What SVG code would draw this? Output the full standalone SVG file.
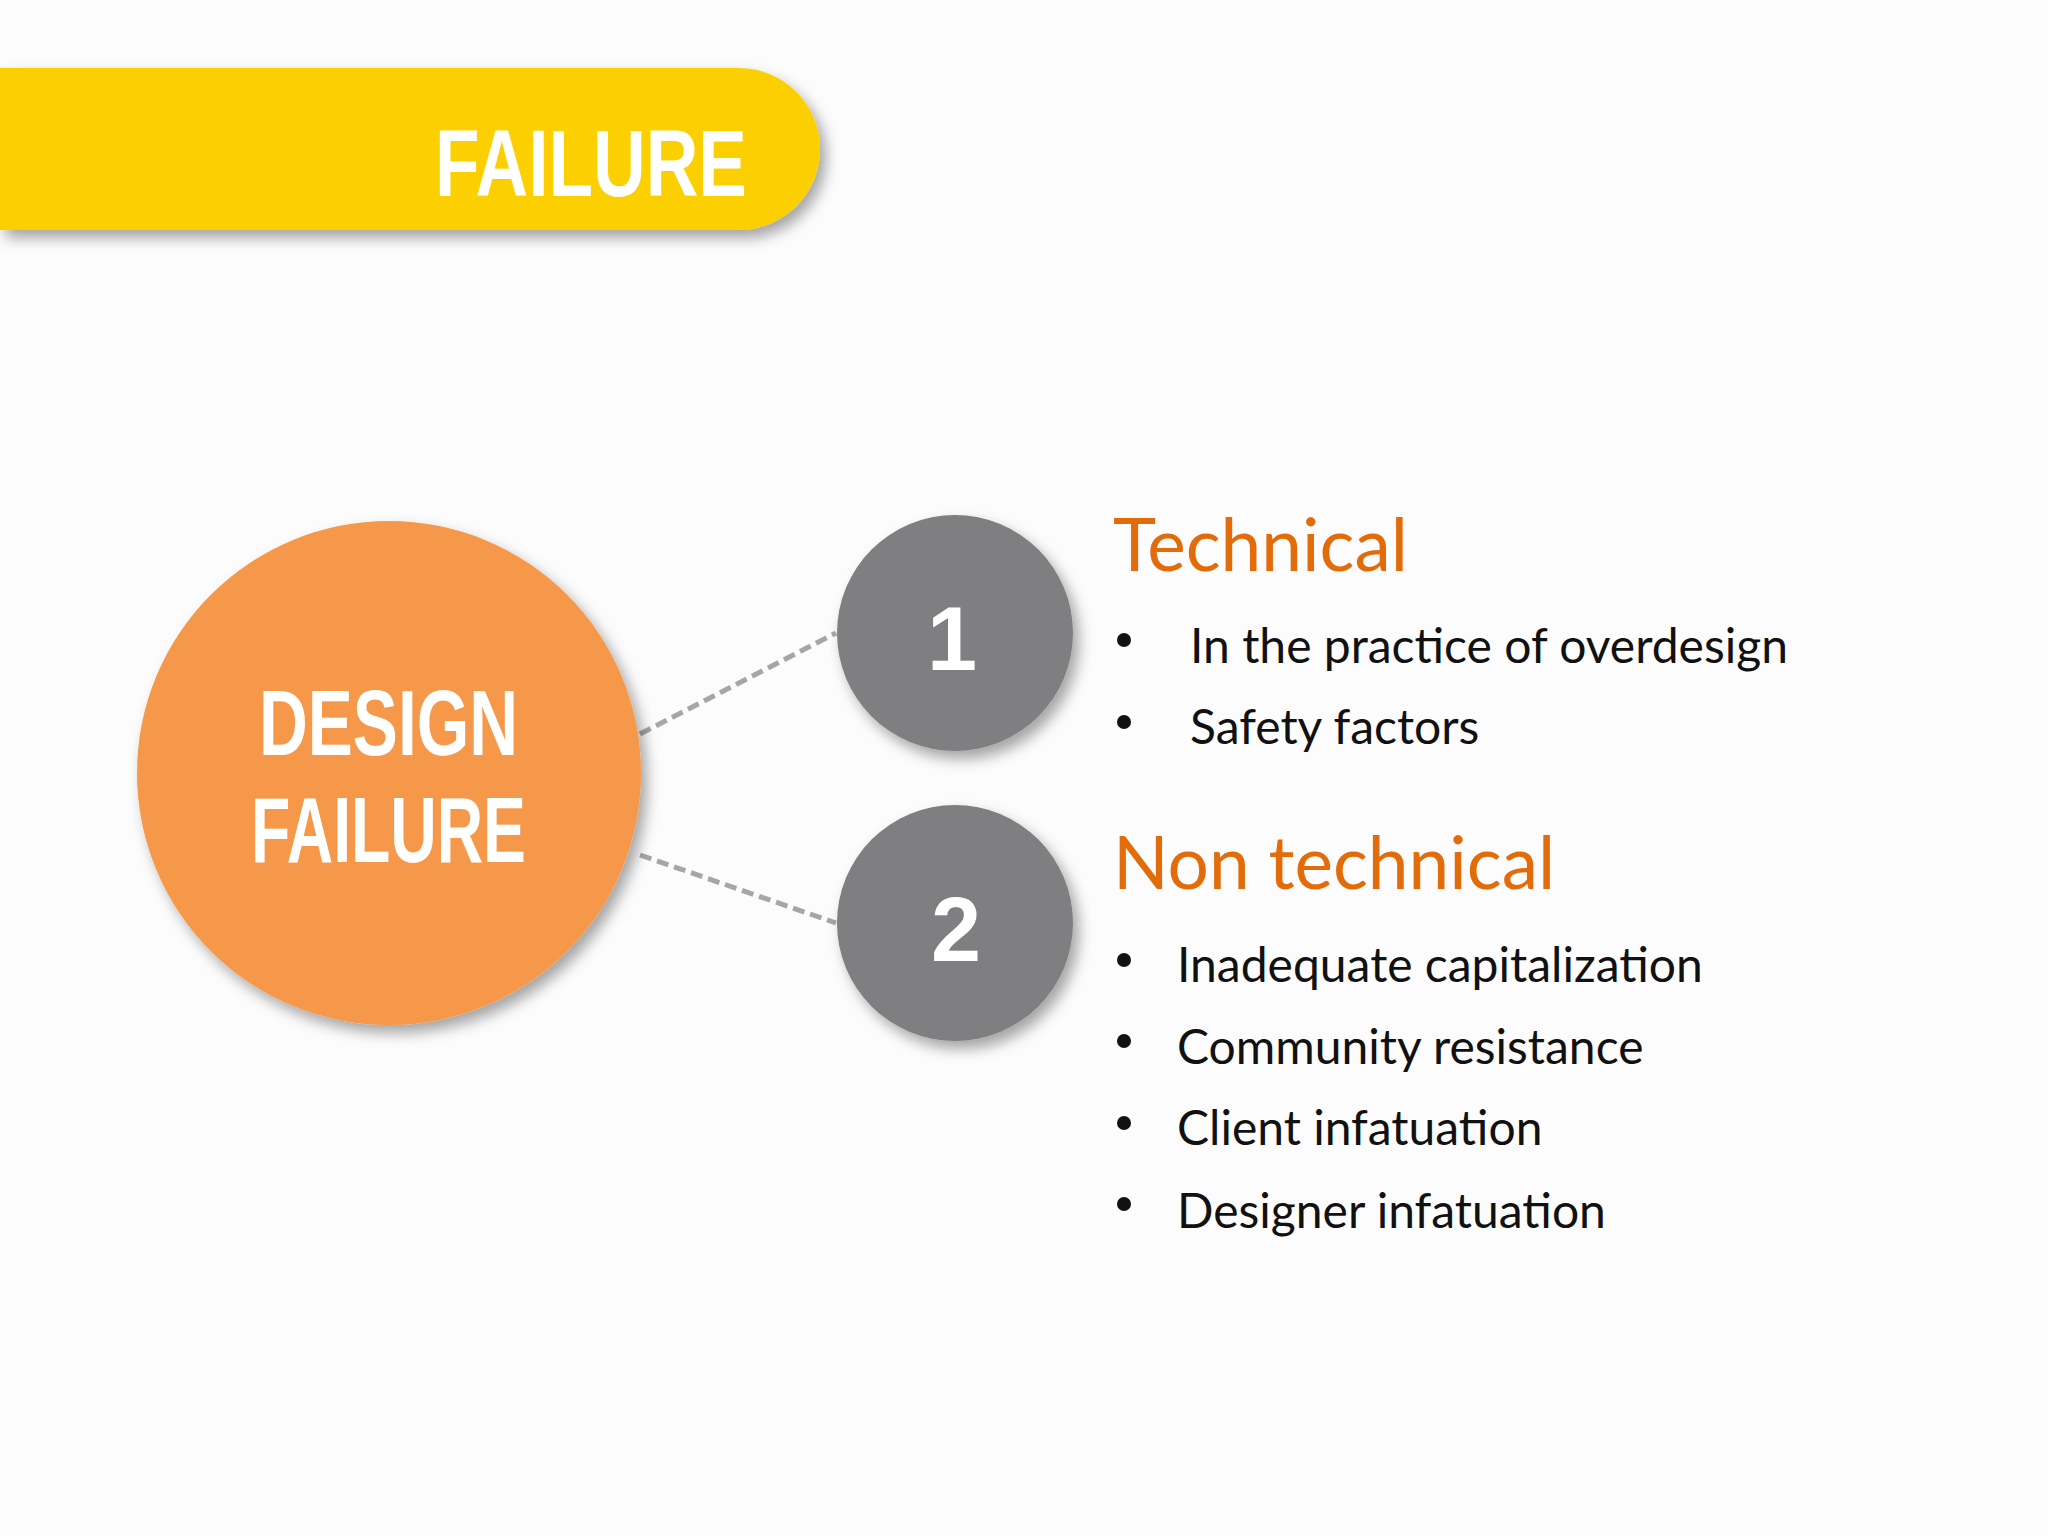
<svg xmlns="http://www.w3.org/2000/svg" width="2048" height="1536" viewBox="0 0 2048 1536">
<defs>
<filter id="sh" x="-20%" y="-20%" width="150%" height="150%"><feDropShadow dx="6" dy="8" stdDeviation="7" flood-color="#000" flood-opacity="0.35"/></filter>
<style>
.h{font-family:"Liberation Sans",Arial,sans-serif;font-weight:bold;fill:#fff}
.t{font-family:"Lato","Open Sans",sans-serif;fill:#111;font-size:48px}
.o{font-family:"Lato","Open Sans",sans-serif;fill:#E36C0A;font-size:73px}
.d{stroke:#A6A6A6;stroke-width:5;stroke-dasharray:12 6;fill:none}
</style>
</defs>
<rect width="2048" height="1536" fill="#FDFCFC"/>
<g id="banner">
<path d="M0,68 H739 A81,81 0 0 1 739,230 H0 Z" fill="#FCCF00" filter="url(#sh)"/>
<text class="h" x="435" y="196" font-size="95" textLength="312" lengthAdjust="spacingAndGlyphs">FAILURE</text>
</g>
<g id="connectors">
<line class="d" x1="640" y1="734" x2="836" y2="633"/>
<line class="d" x1="640" y1="855" x2="836" y2="923"/>
</g>
<g id="design-failure">
<circle cx="389" cy="773" r="252" fill="#F5984A" filter="url(#sh)"/>
<text class="h" x="259" y="755" font-size="92" textLength="259" lengthAdjust="spacingAndGlyphs">DESIGN</text>
<text class="h" x="251" y="862" font-size="92" textLength="275" lengthAdjust="spacingAndGlyphs">FAILURE</text>
</g>
<g id="n1">
<circle cx="955" cy="633" r="118" fill="#7F7E80" filter="url(#sh)"/>
<text class="h" x="952" y="670" font-size="90" text-anchor="middle">1</text>
</g>
<g id="n2">
<circle cx="955" cy="923" r="118" fill="#7F7E80" filter="url(#sh)"/>
<text class="h" x="956" y="961" font-size="90" text-anchor="middle">2</text>
</g>
<g id="technical">
<text class="o" x="1113" y="571">Technical</text>
<circle cx="1124" cy="640" r="7" fill="#111"/>
<text class="t" x="1190" y="663">In the practice of overdesign</text>
<circle cx="1124" cy="722" r="7" fill="#111"/>
<text class="t" x="1190" y="744">Safety factors</text>
</g>
<g id="nontechnical">
<text class="o" x="1113" y="889">Non technical</text>
<circle cx="1124" cy="960" r="7" fill="#111"/>
<text class="t" x="1177" y="982">Inadequate capitalization</text>
<circle cx="1124" cy="1041" r="7" fill="#111"/>
<text class="t" x="1177" y="1064">Community resistance</text>
<circle cx="1124" cy="1123" r="7" fill="#111"/>
<text class="t" x="1177" y="1145">Client infatuation</text>
<circle cx="1124" cy="1204" r="7" fill="#111"/>
<text class="t" x="1177" y="1228">Designer infatuation</text>
</g>
</svg>
